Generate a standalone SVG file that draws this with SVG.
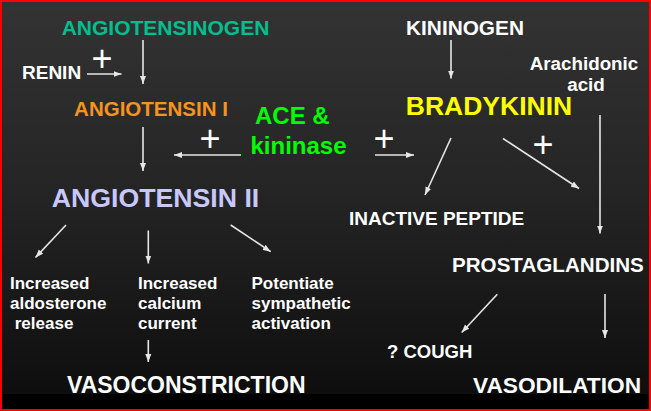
<svg xmlns="http://www.w3.org/2000/svg" width="651" height="411" viewBox="0 0 651 411">
<defs>
<linearGradient id="bg" x1="0" y1="0" x2="0" y2="1">
<stop offset="0" stop-color="#333333"/>
<stop offset="0.5" stop-color="#242424"/>
<stop offset="1" stop-color="#0e0e0e"/>
</linearGradient>
<marker id="ah" markerUnits="userSpaceOnUse" markerWidth="9" markerHeight="7" refX="8" refY="3.5" orient="auto">
<path d="M0,0.5 L8,3.5 L0,6.5 z" fill="#e6e6e6"/>
</marker>
<style>
text{font-family:"Liberation Sans",Arial,sans-serif;font-weight:bold;}
.w{fill:#ffffff;}
.plus{fill:#ffffff;font-size:36px;font-weight:normal;text-anchor:middle;}
.small{fill:#ffffff;font-size:17px;}
.con line{stroke:#e6e6e6;stroke-width:1.6;marker-end:url(#ah);}
</style>
</defs>
<rect x="0" y="0" width="651" height="394" fill="url(#bg)"/>
<rect x="0" y="394" width="651" height="17" fill="#000000"/>
<g id="border" fill="#ff0000">
<rect x="0" y="0" width="651" height="2"/>
<rect x="0" y="0" width="2" height="411"/>
<rect x="649" y="0" width="2" height="411"/>
<rect x="0" y="409" width="651" height="2"/>
</g>

<g id="angiotensinogen"><text x="165.5" y="35" font-size="21" text-anchor="middle" fill="#00bf8f">ANGIOTENSINOGEN</text></g>
<g id="renin"><text x="22" y="79" font-size="19" class="w">RENIN</text></g>
<g id="angiotensin1"><text x="151" y="116" font-size="20.5" text-anchor="middle" fill="#f7941d">ANGIOTENSIN I</text></g>
<g id="angiotensin2"><text x="155.5" y="207" font-size="26.7" text-anchor="middle" fill="#c8c8ff">ANGIOTENSIN II</text></g>
<g id="ace"><text x="255" y="123.5" font-size="24" fill="#00ff00">ACE &amp;</text><text x="250.5" y="154" font-size="24" fill="#00ff00">kininase</text></g>
<g id="kininogen"><text x="465" y="35" font-size="20.8" text-anchor="middle" class="w">KININOGEN</text></g>
<g id="arachidonic"><text x="584" y="70" font-size="18.8" text-anchor="middle" class="w">Arachidonic</text><text x="586" y="91" font-size="18.8" text-anchor="middle" class="w">acid</text></g>
<g id="bradykinin"><text x="489" y="115" font-size="26.5" text-anchor="middle" fill="#ffff00">BRADYKININ</text></g>
<g id="inactive"><text x="349" y="225" font-size="19" class="w">INACTIVE PEPTIDE</text></g>
<g id="prostaglandins"><text x="452" y="271.5" font-size="20.6" class="w">PROSTAGLANDINS</text></g>
<g id="cough"><text x="387" y="357.5" font-size="18.5" class="w">? COUGH</text></g>
<g id="vasodilation"><text x="473" y="392.5" font-size="22.7" class="w">VASODILATION</text></g>
<g id="vasoconstriction"><text x="67" y="392.5" font-size="23" class="w">VASOCONSTRICTION</text></g>
<g id="aldosterone"><text class="small" x="10" y="289">Increased</text><text class="small" x="10" y="309">aldosterone</text><text class="small" x="10" y="329" xml:space="preserve"> release</text></g>
<g id="calcium"><text class="small" x="138" y="289">Increased</text><text class="small" x="138" y="309">calcium</text><text class="small" x="138" y="329">current</text></g>
<g id="sympathetic"><text class="small" x="251.5" y="289">Potentiate</text><text class="small" x="251.5" y="309">sympathetic</text><text class="small" x="251.5" y="329">activation</text></g>

<g id="plus-signs">
<text class="plus" x="102" y="70.5">+</text>
<text class="plus" x="210" y="150.5">+</text>
<text class="plus" x="384" y="150.5">+</text>
<text class="plus" x="543" y="157">+</text>
</g>

<g id="connectors" class="con">
<line x1="87" y1="74" x2="121.5" y2="74"/>
<line x1="143" y1="40" x2="143" y2="84"/>
<line x1="143" y1="127" x2="143" y2="171"/>
<line x1="241" y1="155" x2="174" y2="155"/>
<line x1="375" y1="155" x2="414" y2="155"/>
<line x1="451" y1="40" x2="451" y2="78.5"/>
<line x1="451" y1="138" x2="425" y2="195"/>
<line x1="503" y1="138.5" x2="579" y2="188.5"/>
<line x1="600" y1="115" x2="600" y2="233.5"/>
<line x1="66" y1="225" x2="35.5" y2="257.5"/>
<line x1="148.3" y1="230.5" x2="148.3" y2="263.5"/>
<line x1="230.7" y1="225" x2="270.7" y2="251.7"/>
<line x1="148.3" y1="340" x2="148.3" y2="362"/>
<line x1="497.3" y1="294.3" x2="461.7" y2="332.5"/>
<line x1="605" y1="294" x2="605" y2="338"/>
</g>
</svg>
